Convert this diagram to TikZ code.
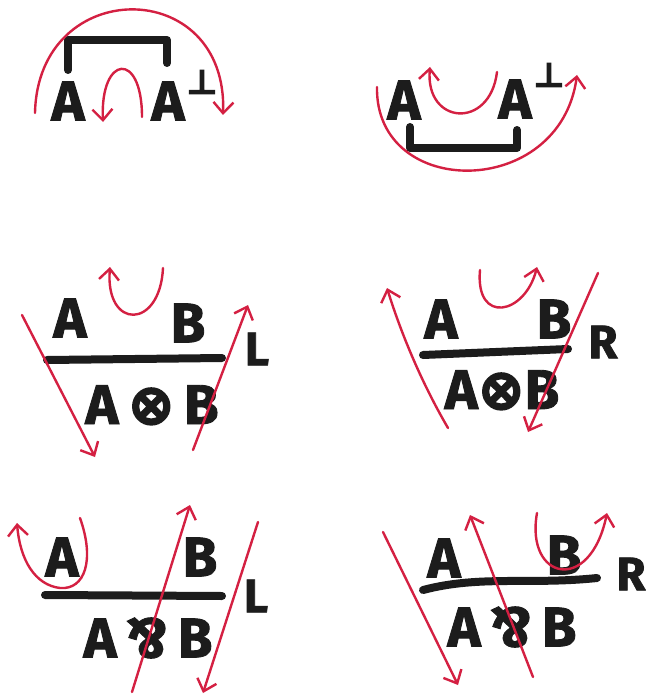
\documentclass[tikz,border=0pt]{standalone}
\usepackage{fontspec}
\setsansfont{Fira Sans}[BoldFeatures={FakeBold=1.6}]
\newfontfamily\penfont{DejaVu Sans}[BoldFeatures={FakeBold=3}]
\usetikzlibrary{arrows.meta}
\definecolor{penred}{RGB}{212,32,66}
\definecolor{penblack}{RGB}{28,28,28}
\tikzset{
  letter/.style={inner sep=0pt, text=penblack, font=\fontsize{56}{56}\selectfont\sffamily\bfseries},
  sideletter/.style={inner sep=0pt, text=penblack, font=\fontsize{47}{47}\selectfont\sffamily\bfseries},
  perpmark/.style={inner sep=0pt, text=penblack, font=\fontsize{34}{34}\selectfont\penfont\bfseries},
  bar/.style={penblack, line width=8pt, line cap=round, line join=round},
  pen/.style={penred, line width=2.4pt, line cap=round,
    -{Straight Barb[length=11pt,width=20pt]}},
}
\newcommand{\tens}{{\penfont\bfseries ⊗}}
\newcommand{\parrsym}{\rotatebox[origin=c]{180}{\&}}
\begin{document}
\begin{tikzpicture}[x=1pt,y=-1pt]
  \fill[white] (0,0) rectangle (645,698);
  \useasboundingbox (0,0) rectangle (645,698);

  % cap
  \node[letter] (capA) at (68,101) {A};
  \node[letter] (capAp) at (168,101) {A};
  \node[perpmark] (capP) at (202,82) {⊥};
  \draw[bar] (68,70) -- (68,40) -- (167,40) -- (167,63);
  \draw[pen] (35,113) .. controls (38,-25) and (228,-25) .. (223,115);
  \draw[pen] (142,117) .. controls (142,50) and (100,55) .. (103,122);

  % cup
  \node[letter] (cupA) at (404,100) {A};
  \node[letter] (cupAp) at (515,99) {A};
  \node[perpmark] (cupP) at (549,75) {⊥};
  \draw[bar] (410,127) -- (410,148) -- (517,148) -- (517,130);
  \draw[pen] (377,87) .. controls (375,200) and (560,200) .. (577,75);
  \draw[pen] (497,72) .. controls (490,130) and (425,125) .. (430,67);

  % tensor left
  \node[letter] (tlA) at (70,318) {A};
  \node[letter] (tlB) at (188,323) {B};
  \draw[bar] (47,360) -- (222,358);
  \node[letter] (tlAB) at (152,405) {A\,\tens\,B};
  \node[sideletter] (tlL) at (257,349) {L};
  \draw[pen] (22,315) -- (95,457);
  \draw[pen] (193,450) -- (248,305);
  \draw[pen] (163,268) .. controls (160,330) and (105,330) .. (110,267);

  % tensor right
  \node[letter] (trA) at (441,319) {A};
  \node[letter] (trB) at (554,319) {B};
  \draw[bar] (423,355) -- (568,349);
  \node[letter] (trAB) at (502,390) {A\tens B};
  \node[sideletter] (trR) at (603,342) {R};
  \draw[pen] (448,428) .. controls (420,380) and (400,330) .. (387,288);
  \draw[pen] (598,273) -- (528,432);
  \draw[pen] (480,270) .. controls (475,325) and (525,315) .. (537,267);

  % par left
  \node[letter] (plA) at (62,557) {A};
  \node[letter] (plB) at (200,557) {B};
  \draw[bar] (45,595) -- (222,596);
  \node[letter] (plAB) at (148,638) {A\,\parrsym\,B};
  \node[sideletter] (plL) at (256,596) {L};
  \draw[pen] (80,518) .. controls (95,560) and (85,590) .. (60,588)
    .. controls (35,585) and (20,560) .. (17,523);
  \draw[pen] (132,692) -- (190,505);
  \draw[pen] (258,522) -- (203,693);

  % par right
  \node[letter] (prA) at (444,558) {A};
  \node[letter] (prB) at (564,555) {B};
  \draw[bar] (423,590) .. controls (480,575) and (530,585) .. (597,578);
  \node[letter] (prAB) at (512,627) {A\,\parrsym\,B};
  \node[sideletter] (prR) at (631,574) {R};
  \draw[pen] (383,532) -- (458,685);
  \draw[pen] (533,677) -- (470,515);
  \draw[pen] (537,513) .. controls (525,580) and (590,595) .. (607,513);
\end{tikzpicture}
\end{document}
